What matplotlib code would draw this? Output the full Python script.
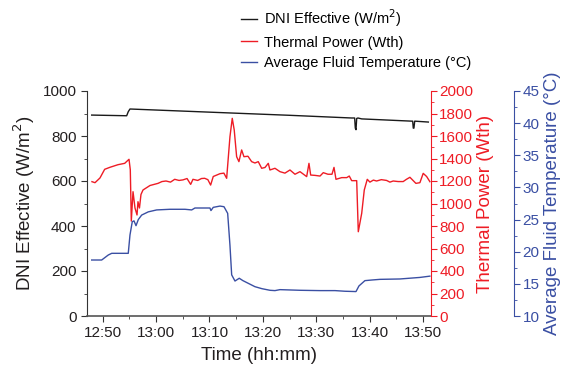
import matplotlib
matplotlib.use("Agg")
import matplotlib.pyplot as plt
from matplotlib.ticker import MultipleLocator

plt.rcParams['font.family'] = ['Liberation Sans', 'DejaVu Sans']

# time in minutes after 12:00
dni_t = [47.94, 54.49, 54.79, 55.11, 70.0, 85.0, 96.64, 97.20, 97.32, 97.45, 97.58,
         97.82, 98.52, 107.88, 108.07, 108.18, 108.30, 108.45, 111.0]
dni_v = [893, 890, 908, 920, 906, 892, 880, 880, 835, 828, 878,
         880, 876, 866, 866, 835, 835, 866, 862]

pow_t = [47.99, 48.56, 49.49, 50.37, 51.37, 52.87, 54.12, 54.93, 55.17, 55.36, 55.68,
         56.05, 56.43, 56.61, 56.89, 57.17, 57.55, 58.86, 60.36, 61.10, 61.86, 62.70,
         63.49, 64.30, 65.04, 65.80, 66.48, 66.91, 67.80, 68.50, 69.10, 69.70, 70.22,
         70.71, 71.97, 72.70, 73.22, 73.84, 74.27, 74.64,
         75.09, 75.52, 76.03, 76.46, 77.21, 77.90, 78.52, 79.14, 79.78, 80.40, 81.02,
         81.33, 82.27, 83.21, 84.14, 85.08, 86.02, 86.96, 88.21, 88.64, 88.96, 89.76,
         90.71, 91.32, 92.20, 92.95, 93.33, 93.70, 94.77, 95.71, 96.19, 96.64, 97.58,
         97.88, 98.52, 99.00, 99.56, 100.06, 100.70, 101.31, 102.20, 103.18, 103.80,
         104.42, 105.36, 106.29, 106.90,
         107.55, 108.67, 109.42, 110.04, 110.68, 111.29]
pow_v = [1194, 1185, 1227, 1304, 1322, 1345, 1357, 1393, 1300, 844, 1105,
         960, 898, 1016, 960, 1080, 1120, 1160, 1179, 1195, 1200, 1190,
         1215, 1205, 1210, 1222, 1170, 1215, 1205, 1222, 1224, 1212, 1164,
         1240, 1265, 1270, 1224, 1594, 1757, 1653,
         1416, 1372, 1476, 1416, 1420, 1372, 1360, 1372, 1313, 1320, 1357,
         1298, 1313, 1283, 1270, 1298, 1260, 1283, 1239, 1357, 1253, 1250,
         1244, 1274, 1260, 1260, 1321, 1215, 1230, 1230, 1244, 1203, 1203,
         749, 913, 1120, 1215, 1190, 1208, 1200, 1212, 1205, 1190,
         1200, 1195, 1195, 1215,
         1233, 1179, 1185, 1268, 1240, 1194]

temp_t = [47.94, 49.81, 51.05, 51.69, 54.79, 55.11, 55.54, 55.86, 56.24, 56.67, 57.30,
          58.54, 60.11, 62.60, 65.41, 66.67, 67.28, 70.09, 70.28, 70.71, 71.97, 72.72,
          73.41, 73.84, 74.16, 74.78, 75.58, 76.27, 78.52, 79.83, 81.33, 82.27, 83.21,
          86.96, 90.71, 93.52, 95.39, 97.45, 98.00, 99.12, 100.43, 101.93, 105.68,
          109.42, 111.29]
temp_v = [18.71, 18.71, 19.49, 19.75, 19.75, 22.6, 24.67, 24.8, 24.05, 25.0, 25.7,
          26.2, 26.5, 26.6, 26.6, 26.5, 26.8, 26.8, 26.4, 26.9, 27.1, 27.0,
          25.97, 21.0, 16.4, 15.44, 15.87, 15.5, 14.56, 14.25, 14.0, 13.95, 14.1,
          14.0, 13.95, 13.95, 13.85, 13.8, 14.67, 15.5, 15.6, 15.7, 15.76,
          16.0, 16.2]

x_ticks = [50, 60, 70, 80, 90, 100, 110]
x_labels = ['12:50', '13:00', '13:10', '13:20', '13:30', '13:40', '13:50']

RED = '#ee1c25'
BLUE = '#3a4fa3'
TXT = '#231f20'

fig = plt.figure(figsize=(5.7, 3.67), dpi=100)
ax = fig.add_axes([87/570, 1-316/367, 344/570, 225/367])
ax2 = ax.twinx()
ax3 = ax.twinx()

l1, = ax.plot(dni_t, dni_v, color='#1a1a1a', lw=1.0, label='DNI Effective (W/m$^2$)')
l2, = ax2.plot(pow_t, pow_v, color=RED, lw=1.0, label='Thermal Power (Wth)')
l3, = ax3.plot(temp_t, temp_v, color=BLUE, lw=1.0, label='Average Fluid Temperature (°C)')

ax.set_xlim(47.06, 111.5)
ax.set_ylim(0, 1000)
ax2.set_ylim(0, 2000)
ax3.set_ylim(10, 45)

ax.set_xticks(x_ticks)
ax.set_xticklabels(x_labels)
ax.xaxis.set_minor_locator(MultipleLocator(5))
ax.yaxis.set_major_locator(MultipleLocator(200))
ax.yaxis.set_minor_locator(MultipleLocator(100))
ax2.yaxis.set_major_locator(MultipleLocator(200))
ax2.yaxis.set_minor_locator(MultipleLocator(100))
ax3.yaxis.set_major_locator(MultipleLocator(5))
ax3.yaxis.set_minor_locator(MultipleLocator(2.5))

for a in (ax, ax2, ax3):
    a.spines['top'].set_visible(False)
ax.spines['right'].set_visible(False)
ax2.spines['left'].set_visible(False)
ax3.spines['left'].set_visible(False)
ax2.spines['bottom'].set_visible(False)
ax3.spines['bottom'].set_visible(False)
ax3.spines['right'].set_position(('outward', 60))

ax.spines['left'].set_color('#333333')
ax.spines['bottom'].set_color('#555555')
ax.spines['bottom'].set_linewidth(1.2)
ax2.spines['right'].set_color(RED)
ax3.spines['right'].set_color(BLUE)

ax.tick_params(axis='both', which='major', length=4, labelsize=11, colors='#333333', labelcolor=TXT)
ax.tick_params(axis='both', which='minor', length=2.5, colors='#333333')
ax2.tick_params(axis='y', which='major', length=4, labelsize=11, colors=RED, labelcolor=RED, pad=2)
ax2.tick_params(axis='y', which='minor', length=2.5, colors=RED)
ax3.tick_params(axis='y', which='major', length=4, labelsize=11, colors=BLUE, labelcolor=BLUE, pad=2)
ax3.tick_params(axis='y', which='minor', length=2.5, colors=BLUE)

ax.set_xlabel('Time (hh:mm)', fontsize=13.5, color=TXT, labelpad=5)
ax.set_ylabel('DNI Effective (W/m$^2$)', fontsize=13.5, color=TXT, labelpad=4)
ax2.set_ylabel('Thermal Power (Wth)', fontsize=13.5, color=RED, labelpad=3)
ax3.set_ylabel('Average Fluid Temperature (°C)', fontsize=13.5, color=BLUE, labelpad=3)

fig.legend(handles=[l1, l2, l3], loc='upper left', bbox_to_anchor=(234/570, 1.0),
           frameon=False, fontsize=10.5, handlelength=1.05, handletextpad=0.5,
           labelspacing=0.45, borderaxespad=0.1)

fig.savefig('out.png', dpi=100)
